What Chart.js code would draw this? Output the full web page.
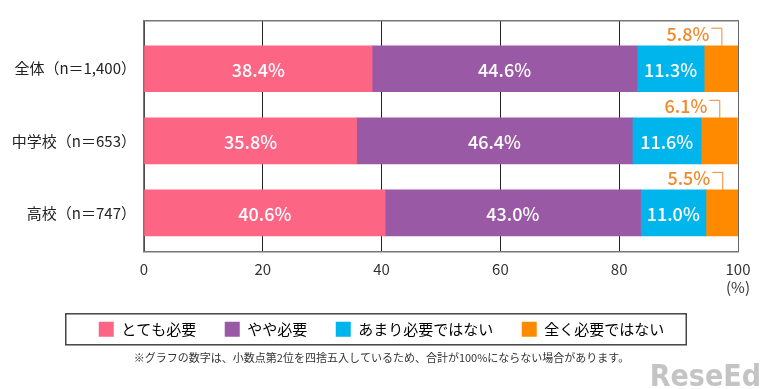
<!DOCTYPE html>
<html>
<head>
<meta charset="utf-8">
<script src="https://cdn.jsdelivr.net/npm/chart.js@4"></script>
<style>
  html, body { margin: 0; padding: 0; background: #fff; }
  #wrap { width: 763px; height: 389px; }
</style>
</head>
<body>
<div id="wrap"><canvas id="myChart"></canvas></div>
<script>
/*global Chart*/

const categories = ['全体（n＝1,400）', '中学校（n＝653）', '高校（n＝747）'];
const seriesNames = ['とても必要', 'やや必要', 'あまり必要ではない', '全く必要ではない'];
const veryNeeded = [38.4, 35.8, 40.6];
const someNeeded = [44.6, 46.4, 43.0];
const notMuch = [11.3, 11.6, 11.0];
const notAtAll = [5.8, 6.1, 5.5];
const xTicks = [0, 20, 40, 60, 80, 100];
const note = '※グラフの数字は、小数点第2位を四捨五入しているため、合計が100%にならない場合があります。';

const colors = ['#fc6584', '#9a59a5', '#00b5ec', '#ff8a00'];
const FONT = "'Noto Sans CJK JP', 'Noto Sans', sans-serif";

const toPoints = arr => arr.map((v, i) => ({x: v, y: i}));

const data = {
    datasets: [veryNeeded, someNeeded, notMuch, notAtAll].map((arr, i) => ({
        label: seriesNames[i],
        data: toPoints(arr),
        backgroundColor: colors[i],
        borderWidth: 0,
        barThickness: 46,
    }))
};

// value labels on the bars, orange one sits above with a small bracket
const barLabels = {
    id: 'barLabels',
    afterDatasetsDraw(chart) {
        const ctx = chart.ctx;
        ctx.save();
        ctx.font = '500 18px ' + FONT;
        ctx.textBaseline = 'middle';
        chart.data.datasets.forEach((ds, i) => {
            chart.getDatasetMeta(i).data.forEach((bar, j) => {
                const txt = ds.data[j].x.toFixed(1) + '%';
                const cx = (bar.x + bar.base) / 2;
                if (i < 3) {
                    ctx.fillStyle = '#fff';
                    ctx.textAlign = 'center';
                    ctx.fillText(txt, cx, bar.y + 1);
                } else {
                    const top = bar.y - bar.height / 2;
                    ctx.fillStyle = '#f08a2c';
                    ctx.textAlign = 'right';
                    ctx.fillText(txt, cx - 12, top - 12);
                    ctx.strokeStyle = '#f08a2c';
                    ctx.lineWidth = 1;
                    ctx.beginPath();
                    ctx.moveTo(cx - 10, top - 17.5);
                    ctx.lineTo(cx + 0.5, top - 17.5);
                    ctx.lineTo(cx + 0.5, top);
                    ctx.stroke();
                }
            });
        });
        ctx.restore();
    }
};

// frame round the legend + watermark
const legendFrame = {
    id: 'legendFrame',
    afterDraw(chart) {
        const boxes = chart.legend.legendHitBoxes;
        if (!boxes || !boxes.length) return;
        const ctx = chart.ctx;
        const first = boxes[0];
        const last = boxes[boxes.length - 1];
        ctx.save();
        ctx.strokeStyle = '#444';
        ctx.lineWidth = 1.5;
        ctx.strokeRect(first.left - 33, first.top - 8, (last.left + last.width + 22) - (first.left - 33), first.height + 16);
        ctx.fillStyle = '#c4c4c4';
        ctx.font = "bold 30px 'DejaVu Sans Condensed', sans-serif";
        ctx.textAlign = 'right';
        ctx.textBaseline = 'alphabetic';
        ctx.fillText('ReseEd', 761, 386);
        ctx.restore();
    }
};

const config = {
    type: 'bar',
    data: data,
    plugins: [barLabels, legendFrame],
    options: {
        indexAxis: 'y',
        responsive: true,
        maintainAspectRatio: false,
        animation: false,
        layout: {
            padding: {top: 21, left: 10, right: 10, bottom: 21}
        },
        scales: {
            x: {
                type: 'linear',
                position: 'bottom',
                stacked: true,
                min: 0,
                max: 100,
                afterBuildTicks: scale => { scale.ticks = xTicks.map(v => ({value: v})); },
                afterFit: scale => { scale.paddingRight = 25; scale.paddingLeft = 0; },
                ticks: {
                    padding: 8,
                    color: '#333',
                    font: {family: FONT, size: 15},
                    callback: v => v === 100 ? ['100', '(%)'] : String(v)
                },
                grid: {
                    color: ctx => ctx.tick && ctx.tick.value === 100 ? '#666' : '#222',
                    lineWidth: 1,
                    drawTicks: false
                },
                border: {display: true, color: '#777', width: 1.5}
            },
            xTop: {
                type: 'linear',
                position: 'top',
                min: 0,
                max: 100,
                ticks: {display: false},
                grid: {display: false, drawTicks: false},
                border: {display: true, color: '#777', width: 1.5}
            },
            y: {
                type: 'linear',
                stacked: true,
                reverse: true,
                offset: false,
                min: -0.662,
                max: 2.54,
                afterBuildTicks: scale => { scale.ticks = categories.map((c, i) => ({value: i})); },
                afterFit: scale => { scale.width = 134; },
                ticks: {
                    padding: 8,
                    color: '#222',
                    font: {family: FONT, size: 15},
                    callback: v => categories[v]
                },
                grid: {display: false, drawTicks: false, offset: false},
                border: {display: true, color: '#777', width: 1.5}
            }
        },
        plugins: {
            legend: {
                position: 'bottom',
                labels: {
                    boxWidth: 15,
                    boxHeight: 15,
                    padding: 18,
                    color: '#333',
                    font: {family: FONT, size: 15},
                    generateLabels: chart => chart.data.datasets.map((ds, i) => ({
                        text: i < chart.data.datasets.length - 1 ? ds.label + '\u2002\u2009' : ds.label,
                        fillStyle: ds.backgroundColor,
                        strokeStyle: ds.backgroundColor,
                        lineWidth: 0,
                        datasetIndex: i
                    }))
                }
            },
            subtitle: {
                display: true,
                position: 'bottom',
                text: note,
                color: '#333',
                font: {family: FONT, size: 11},
                padding: {top: 4, bottom: 4}
            },
            tooltip: {enabled: false}
        }
    }
};

/*eslint-disable no-unused-vars*/
const graphe = new Chart(document.getElementById('myChart'), config);
</script>
</body>
</html>
